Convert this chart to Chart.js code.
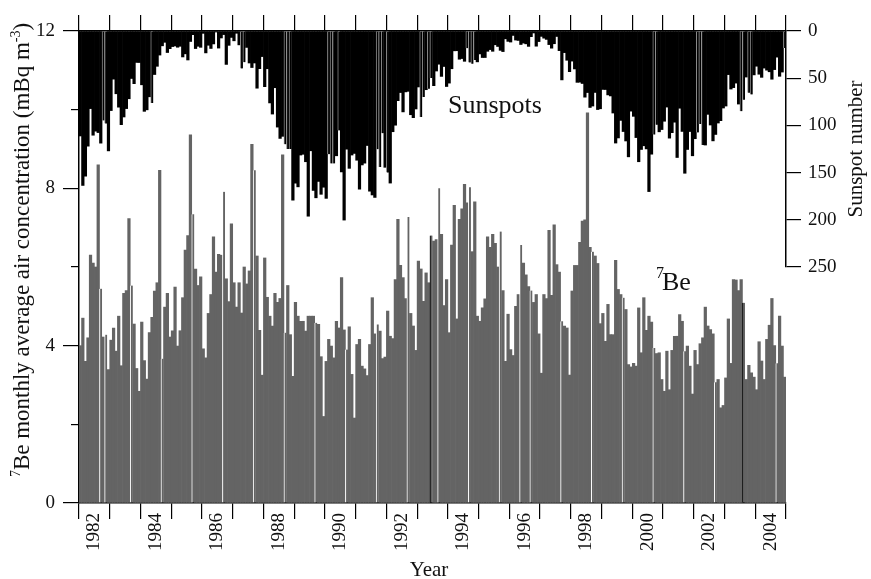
<!DOCTYPE html>
<html><head><meta charset="utf-8">
<script src="https://cdn.jsdelivr.net/npm/chart.js@4/dist/chart.umd.min.js"></script>
<style>html,body{margin:0;padding:0;background:#fff}#wrap{width:871px;height:579px;position:relative}</style>
</head><body><div id="wrap"><canvas id="c" width="871" height="579"></canvas></div>
<script>
const startYear = 1982;
const yearLabels = ['1982','1984','1986','1988','1990','1992','1994','1996','1998','2000','2002','2004'];
// 7Be monthly average air concentration (mBq m-3), Jan 1982 .. Dec 2004
const be7 = [
 4.0,4.7,3.6,4.2,6.3,6.1,6.0,8.6,5.45,4.22,4.28,3.39,
 4.14,4.45,3.86,4.75,3.49,5.33,5.4,7.23,5.53,4.55,3.42,2.84,
 4.6,3.62,3.15,4.33,4.72,5.39,5.6,8.46,3.67,4.98,5.33,4.22,
 4.38,5.49,3.99,4.38,5.22,6.43,6.8,9.36,7.34,5.95,5.53,5.75,
 3.92,3.69,4.82,5.3,6.77,5.87,6.32,6.3,7.91,5.7,5.12,7.1,
 5.6,4.98,5.6,4.83,6.0,5.57,5.9,9.12,8.46,6.28,4.39,3.25,
 6.23,5.23,4.75,4.5,5.33,5.1,5.2,8.85,4.33,5.53,4.28,3.22,
 5.1,4.75,4.62,4.62,4.37,4.75,4.75,4.75,4.58,4.54,3.72,2.2,
 3.6,4.16,3.99,3.69,4.62,4.45,5.73,4.4,3.9,4.48,3.27,2.16,
 4.03,4.16,3.48,3.41,3.24,4.03,5.22,4.3,4.54,4.37,3.67,3.71,
 4.88,4.24,4.18,5.68,7.21,6.04,5.73,5.2,7.27,4.82,4.5,3.88,
 6.15,5.95,5.13,5.85,5.6,6.8,6.66,6.7,8.0,6.83,5.02,5.68,
 4.33,6.56,7.57,4.68,7.21,7.48,8.1,7.63,8.03,6.39,7.66,4.75,
 4.62,4.96,5.19,6.77,6.5,6.83,6.6,6.0,6.9,5.4,3.6,4.8,
 3.9,3.75,5.0,5.3,6.56,6.1,5.8,5.5,5.4,5.1,5.3,4.3,
 3.3,5.3,5.2,6.93,5.28,7.07,6.06,5.87,4.62,4.5,4.45,3.25,
 5.39,6.04,6.04,6.63,7.17,7.2,9.92,6.5,6.39,6.28,6.09,4.56,
 4.82,4.11,5.05,4.28,4.28,6.17,5.43,5.3,5.22,4.92,3.52,3.46,
 3.55,3.48,4.96,3.82,5.22,4.39,4.75,4.6,3.94,3.8,3.82,3.14,
 2.84,3.86,2.88,3.88,4.24,4.24,4.79,4.62,3.86,3.99,3.48,2.77,
 3.88,3.52,4.05,4.2,4.98,4.5,4.41,4.3,3.07,3.14,2.42,2.48,
 3.18,4.68,3.55,5.68,5.67,5.4,5.68,5.09,3.14,3.5,3.31,3.2,
 2.88,4.1,3.61,3.14,4.16,4.52,5.2,4.0,3.55,4.75,3.99,3.2
];
// Monthly sunspot number, Jan 1982 .. Dec 2004
const sunspots = [
 111.2,163.6,153.8,122.0,82.2,110.4,106.1,107.6,118.8,94.7,98.1,127.0,
 84.3,51.0,66.5,80.7,99.2,91.1,82.2,71.8,50.3,55.8,33.3,33.4,
 57.0,85.1,83.5,69.7,76.4,46.1,37.4,25.5,15.7,12.0,22.8,18.7,
 16.5,15.9,17.2,16.2,27.5,24.2,30.7,11.1,3.9,18.6,16.2,17.3,
 2.5,23.2,15.1,18.5,13.7,1.1,18.1,7.4,3.8,35.4,15.2,6.8,
 10.4,2.4,14.7,39.6,33.0,17.4,33.9,38.7,33.9,60.6,39.9,27.1,
 59.0,40.0,76.2,88.0,60.1,101.8,113.8,111.6,120.1,125.1,125.1,179.2,
 161.3,165.1,131.4,130.6,138.5,196.2,126.9,168.9,176.7,159.4,173.0,165.5,
 177.3,130.5,140.3,140.3,132.2,105.4,149.4,200.3,125.2,145.5,131.4,129.7,
 136.9,167.5,141.9,140.0,121.3,169.7,173.7,176.3,125.3,144.1,108.2,144.4,
 150.0,161.1,106.7,99.8,73.8,65.2,85.7,64.5,63.9,88.7,91.8,82.6,
 59.3,91.0,69.8,62.2,61.3,49.8,57.9,42.4,35.2,48.1,37.6,58.8,
 55.2,40.0,21.0,20.9,29.9,29.2,32.1,18.2,33.4,34.8,30.7,32.7,
 24.3,28.1,28.1,21.5,19.7,21.5,14.6,16.4,20.5,21.8,8.3,11.0,
 11.7,4.7,9.6,10.0,14.3,12.8,13.6,16.3,6.0,2.1,16.1,11.2,
 5.7,7.6,8.9,14.4,18.2,13.5,5.8,20.8,51.8,22.9,31.0,43.1,
 31.9,40.2,54.4,54.2,55.6,70.1,65.2,81.0,79.5,65.1,83.2,82.4,
 61.9,62.0,67.7,68.8,86.9,118.7,113.3,94.7,106.5,116.5,133.3,84.9,
 90.4,112.9,138.5,125.5,121.6,124.9,170.1,130.5,109.7,99.4,106.8,104.4,
 95.6,80.6,113.5,107.7,96.6,134.0,81.8,106.4,150.7,125.5,106.5,132.2,
 114.1,107.4,98.4,120.7,120.8,88.3,99.6,116.4,109.6,97.5,95.0,81.6,
 79.5,46.2,61.5,60.0,55.2,77.4,85.0,72.7,48.8,65.5,67.3,46.5,
 37.3,45.8,49.1,39.3,41.5,43.2,51.1,40.9,27.7,48.0,43.5,17.9
];

// rendering seams seen in the original raster (style only)
const beWhiteSeams = new Set([8,10,20,32,44,56,68,80,92,104,116,128,140,152,164,172,176,188,200,212,224,236,248,272]);
const beDarkSeams = new Set([137,259]);
const sunSeams = new Set([9,10,28,63,64,80,81,82,97,98,99,101,116,117,118,120,133,134,136,137,151,152,153,154,224,225,241,242,243,258,259,261,262,275]);

const FONT = "'Liberation Serif','Times New Roman',serif";
const nM = be7.length;
const beData = be7.map((v, i) => ({x: i + 0.5, y: v}));
const ssData = sunspots.map((v, i) => ({x: i + 0.5, y: v}));
const yearBounds = []; for (let k = 0; k <= nM; k += 12) yearBounds.push(k);

const noBorder = {top:0,right:0,bottom:0,left:0};
const leftBorder = {top:0,right:0,bottom:0,left:1};

const textPlugin = {
  id: 'texts',
  afterDraw(chart) {
    const ctx = chart.ctx;
    ctx.save();
    ctx.fillStyle = '#111';
    const F = 23, FS = 14;
    const parts = [['7', true], ['Be monthly average air concentration (mBq m', false], ['-3', true], [')', false]];
    let total = 0;
    parts.forEach(p => { ctx.font = (p[1] ? FS : F) + 'px ' + FONT; total += ctx.measureText(p[0]).width; });
    ctx.translate(29, 250);
    ctx.rotate(-Math.PI / 2);
    let x = -total / 2;
    ctx.textBaseline = 'alphabetic';
    ctx.textAlign = 'left';
    parts.forEach(p => {
      ctx.font = (p[1] ? FS : F) + 'px ' + FONT;
      ctx.fillText(p[0], x, p[1] ? -9 : 0);
      x += ctx.measureText(p[0]).width;
    });
    ctx.restore();

    ctx.save();
    ctx.fillStyle = '#111';
    ctx.font = '21px ' + FONT;
    ctx.translate(862, 149);
    ctx.rotate(-Math.PI / 2);
    ctx.textAlign = 'center';
    ctx.fillText('Sunspot number', 0, 0);
    ctx.restore();

    ctx.save();
    ctx.fillStyle = '#111';
    ctx.font = '21px ' + FONT;
    ctx.textAlign = 'center';
    ctx.fillText('Year', 429, 576);
    ctx.font = '26px ' + FONT;
    ctx.textAlign = 'left';
    ctx.fillText('Sunspots', 448, 113);
    ctx.font = '16px ' + FONT;
    ctx.fillText('7', 656, 278);
    ctx.font = '26px ' + FONT;
    ctx.fillText('Be', 662, 290);
    ctx.restore();
  }
};

new Chart(document.getElementById('c'), {
  type: 'bar',
  data: {
    datasets: [
      {
        label: 'Sunspots', data: ssData, xAxisID: 'x', yAxisID: 'y2', grouped: false,
        backgroundColor: '#000', barPercentage: 1, categoryPercentage: 1, borderSkipped: false,
        borderColor: '#8a8a8a',
        borderWidth: c => sunSeams.has(c.dataIndex) ? leftBorder : noBorder
      },
      {
        label: '7Be', data: beData, xAxisID: 'x', yAxisID: 'y', grouped: false,
        backgroundColor: '#646464', barPercentage: 1, categoryPercentage: 1, borderSkipped: false,
        borderColor: c => beDarkSeams.has(c.dataIndex) ? '#000' : '#fff',
        borderWidth: c => (beWhiteSeams.has(c.dataIndex) || beDarkSeams.has(c.dataIndex)) ? leftBorder : noBorder
      }
    ]
  },
  options: {
    responsive: false, animation: false, devicePixelRatio: 1,
    layout: {padding: 0},
    plugins: {legend: {display: false}, tooltip: {enabled: false}},
    scales: {
      x: {
        type: 'linear', position: 'bottom', min: 0, max: nM, weight: 0, offset: false,
        afterBuildTicks: s => { s.ticks = yearBounds.map(v => ({value: v})); },
        afterFit: s => { s.height = 10; },
        ticks: {display: false},
        grid: {drawOnChartArea: false, drawTicks: true, tickLength: 16, color: '#000', lineWidth: 1.2, offset: false},
        border: {display: true, color: '#000', width: 1.5}
      },
      xLab: {
        type: 'linear', position: 'bottom', min: 0, max: nM, weight: 1, offset: false,
        afterBuildTicks: s => { s.ticks = yearLabels.map((t, i) => ({value: 6 + 24 * i})); },
        afterFit: s => { s.height = 66; },
        ticks: {
          minRotation: 90, maxRotation: 90, autoSkip: false, padding: 0, color: '#111',
          font: {family: FONT, size: 19},
          callback: (v, i) => yearLabels[i]
        },
        grid: {display: false, drawTicks: false, offset: false},
        border: {display: false}
      },
      xTop: {
        type: 'linear', position: 'top', min: 0, max: nM, offset: false,
        afterBuildTicks: s => { s.ticks = yearBounds.map(v => ({value: v})); },
        afterFit: s => { s.height = 31; },
        ticks: {display: false},
        grid: {drawOnChartArea: false, tickLength: 16, color: '#000', lineWidth: 1.2, offset: false},
        border: {display: true, color: '#000', width: 1.5}
      },
      y: {
        type: 'linear', position: 'left', min: 0, max: 12, weight: 1,
        afterBuildTicks: s => { s.ticks = [0, 4, 8, 12].map(v => ({value: v})); },
        afterFit: s => { s.width = 79; },
        ticks: {padding: 8, color: '#111', font: {family: FONT, size: 19}},
        grid: {drawOnChartArea: false, tickLength: 16, color: '#000', lineWidth: 1.2},
        border: {display: true, color: '#000', width: 1.5}
      },
      yMinor: {
        type: 'linear', position: 'left', min: 0, max: 12, weight: 0,
        afterBuildTicks: s => { s.ticks = [2, 6, 10].map(v => ({value: v})); },
        afterFit: s => { s.width = 0; },
        ticks: {display: false},
        grid: {drawOnChartArea: false, tickLength: 8, color: '#000', lineWidth: 1.2},
        border: {display: false}
      },
      y2: {
        type: 'linear', position: 'right', min: 0, max: 250, reverse: true,
        stack: 'right', stackWeight: 1,
        afterBuildTicks: s => { const t = []; for (let v = 0; v <= 250; v += 25) t.push({value: v}); s.ticks = t; },
        afterFit: s => { s.width = 85; },
        ticks: {padding: 7, color: '#111', font: {family: FONT, size: 19}, callback: v => (v % 50 === 0 ? String(v) : '')},
        grid: {
          drawOnChartArea: false, tickLength: 15, color: '#000', lineWidth: 1.2,
          tickBorderDash: c => (c.tick && c.tick.value % 50 !== 0) ? [8, 30] : []
        },
        border: {display: true, color: '#000', width: 1.5}
      },
      y2b: {
        type: 'linear', position: 'right', min: 0, max: 1,
        stack: 'right', stackWeight: 1,
        afterFit: s => { s.width = 85; },
        ticks: {display: false},
        grid: {display: false, drawTicks: false},
        border: {display: false}
      }
    }
  },
  plugins: [textPlugin]
});
</script></body></html>
